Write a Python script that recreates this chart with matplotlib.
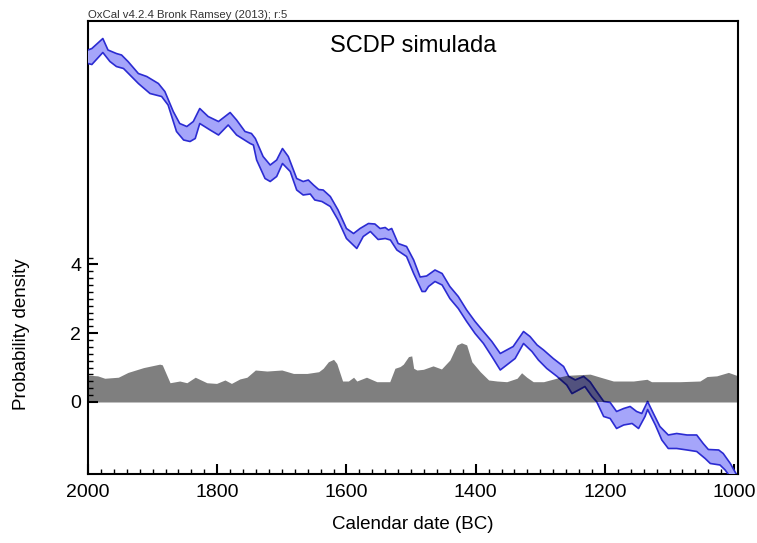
import matplotlib
matplotlib.use('Agg')
import matplotlib.pyplot as plt
from matplotlib.ticker import MultipleLocator, FixedLocator
import numpy as np

plt.rcParams['font.family'] = ['Liberation Sans', 'DejaVu Sans']

# densidad de probabilidad simulada (gris)
pdf_years = [2000, 1985, 1974, 1953, 1938, 1914, 1889, 1885, 1873, 1858, 1847, 1834,
             1816, 1801, 1788, 1778, 1765, 1754, 1741, 1723, 1700, 1682, 1661, 1643,
             1636, 1628, 1620, 1615, 1606, 1597, 1589, 1584, 1569, 1553, 1533, 1525,
             1517, 1512, 1504, 1499, 1496, 1491, 1481, 1466, 1453, 1440, 1429, 1422,
             1414, 1406, 1393, 1380, 1367, 1352, 1336, 1329, 1321, 1311, 1295, 1275,
             1254, 1223, 1207, 1187, 1156, 1135, 1128, 1084, 1053, 1042, 1027, 1009, 994]
pdf_vals = [0.78, 0.76, 0.69, 0.72, 0.86, 1.00, 1.10, 1.08, 0.56, 0.61, 0.56, 0.72,
            0.56, 0.54, 0.64, 0.54, 0.67, 0.72, 0.93, 0.90, 0.93, 0.83, 0.83, 0.88,
            0.98, 1.17, 1.24, 1.12, 0.61, 0.61, 0.72, 0.61, 0.72, 0.59, 0.59, 0.98,
            1.03, 1.10, 1.32, 1.34, 0.98, 0.93, 0.95, 1.05, 0.96, 1.22, 1.66, 1.72,
            1.66, 1.17, 0.88, 0.64, 0.61, 0.59, 0.69, 0.85, 0.72, 0.59, 0.59, 0.69,
            0.78, 0.81, 0.72, 0.61, 0.61, 0.66, 0.59, 0.59, 0.61, 0.74, 0.76, 0.86, 0.76]

# curva de calibracion (BP), borde superior
up_years = [2000, 1994, 1977, 1969, 1956, 1948, 1938, 1922, 1909, 1891, 1881, 1868,
            1858, 1847, 1837, 1827, 1814, 1798, 1780, 1770, 1757, 1747, 1741, 1729,
            1718, 1708, 1699, 1690, 1677, 1667, 1659, 1651, 1643, 1636, 1625, 1613,
            1600, 1589, 1579, 1566, 1556, 1548, 1540, 1535, 1530, 1520, 1507, 1496,
            1486, 1476, 1463, 1452, 1440, 1427, 1414, 1401, 1388, 1375, 1362, 1352,
            1342, 1326, 1316, 1305, 1295, 1280, 1264, 1256, 1246, 1233, 1223, 1213,
            1202, 1192, 1182, 1171, 1161, 1151, 1143, 1134, 1125, 1115, 1102, 1089,
            1073, 1058, 1048, 1040, 1024, 1017, 1006, 996]
up_bp = [3642, 3645, 3665, 3642, 3635, 3632, 3619, 3595, 3589, 3575, 3559, 3519,
         3495, 3489, 3499, 3525, 3509, 3499, 3517, 3502, 3479, 3475, 3465, 3429,
         3412, 3422, 3445, 3429, 3385, 3379, 3382, 3372, 3363, 3362, 3349, 3322,
         3285, 3275, 3285, 3295, 3294, 3285, 3287, 3282, 3285, 3255, 3249, 3222,
         3188, 3190, 3202, 3195, 3169, 3149, 3122, 3099, 3079, 3059, 3035, 3042,
         3049, 3079, 3069, 3052, 3042, 3025, 3009, 2989, 2982, 2989, 2978, 2959,
         2939, 2937, 2919, 2925, 2929, 2919, 2915, 2939, 2915, 2889, 2872, 2875,
         2872, 2872, 2855, 2843, 2842, 2835, 2815, 2792]

# borde inferior
lo_years = [2000, 1994, 1977, 1966, 1956, 1945, 1935, 1922, 1904, 1886, 1876, 1863,
            1852, 1842, 1834, 1827, 1811, 1798, 1783, 1770, 1754, 1749, 1744, 1739,
            1726, 1718, 1708, 1699, 1687, 1677, 1667, 1656, 1649, 1638, 1625, 1613,
            1600, 1584, 1574, 1563, 1551, 1540, 1532, 1522, 1507, 1496, 1483, 1478,
            1473, 1463, 1452, 1440, 1427, 1414, 1401, 1388, 1375, 1362, 1352, 1339,
            1326, 1313, 1303, 1290, 1274, 1259, 1251, 1241, 1231, 1220, 1213, 1202,
            1192, 1182, 1171, 1158, 1148, 1138, 1134, 1122, 1112, 1102, 1089, 1073,
            1058, 1045, 1037, 1022, 1014, 1006]
lo_bp = [3615, 3613, 3637, 3619, 3609, 3605, 3592, 3575, 3555, 3549, 3532, 3479,
         3462, 3459, 3465, 3495, 3482, 3472, 3492, 3472, 3459, 3455, 3452, 3422,
         3385, 3379, 3389, 3415, 3399, 3362, 3352, 3354, 3342, 3339, 3329, 3302,
         3265, 3245, 3269, 3279, 3263, 3265, 3262, 3242, 3229, 3195, 3159, 3159,
         3169, 3179, 3172, 3145, 3125, 3099, 3075, 3055, 3029, 3002, 3012, 3025,
         3055, 3039, 3022, 3005, 2989, 2972, 2955, 2962, 2969, 2949, 2939, 2909,
         2905, 2885, 2892, 2895, 2885, 2909, 2923, 2892, 2862, 2845, 2845, 2842,
         2839, 2825, 2815, 2812, 2802, 2788]

fig = plt.figure(figsize=(7.57, 5.43), dpi=100)
ax = fig.add_axes([0.1162, 0.1271, 0.8588, 0.8342])

gray = ax.fill_between(pdf_years, 0, pdf_vals, color='#7f7f7f', linewidth=0, zorder=1)

ax.set_xlim(2000, 994)
ax.set_ylim(-2.093, 11.076)

# eje oculto para la curva de calibracion
ax2 = ax.twinx()
ax2.set_ylim(2794, 3700)
ax2.set_yticks([])
for s in ax2.spines.values():
    s.set_visible(False)

poly_x = list(up_years) + list(lo_years[::-1])
poly_y = list(up_bp) + list(lo_bp[::-1])
ax2.fill(poly_x, poly_y, color='#a5a5fa', linewidth=0, zorder=2)
ax2.plot(up_years, up_bp, color='#2b2bd2', lw=1.2, zorder=3)
ax2.plot(lo_years, lo_bp, color='#2b2bd2', lw=1.2, zorder=3)

# zona superpuesta (mas oscura)
clip = gray.get_paths()[0]
ov = ax2.fill(poly_x, poly_y, color='#52527e', linewidth=0, zorder=4)
l1 = ax2.plot(up_years, up_bp, color='#16166a', lw=1.2, zorder=5)
l2 = ax2.plot(lo_years, lo_bp, color='#16166a', lw=1.2, zorder=5)
for art in ov + l1 + l2:
    art.set_clip_path(clip, ax.transData)

# ejes y ticks
for s in ax.spines.values():
    s.set_linewidth(1.5)
ax.xaxis.set_major_locator(MultipleLocator(200))
ax.xaxis.set_minor_locator(MultipleLocator(20))
ax.yaxis.set_major_locator(FixedLocator([0, 2, 4]))
ax.yaxis.set_minor_locator(FixedLocator(np.arange(0, 4.3, 0.2)))
ax.tick_params(which='major', direction='in', length=7.5, width=1.5, labelsize=14, pad=7)
ax.tick_params(which='minor', direction='in', length=3.5, width=1.0)
ax.tick_params(axis='y', pad=5)

ax.set_xlabel('Calendar date (BC)', fontsize=13.5, labelpad=11)
ax.set_ylabel('Probability density', fontsize=13.5)
ax.yaxis.set_label_coords(-0.089, 0.309)

ax.text(0.5, 0.945, 'SCDP simulada', transform=ax.transAxes, ha='center', va='center',
        fontsize=17)
fig.text(88 / 757, 1 - 15 / 543, 'OxCal v4.2.4 Bronk Ramsey (2013); r:5', ha='left',
         va='center', fontsize=8.2, color='#333333')

fig.savefig('out.png', dpi=100)
